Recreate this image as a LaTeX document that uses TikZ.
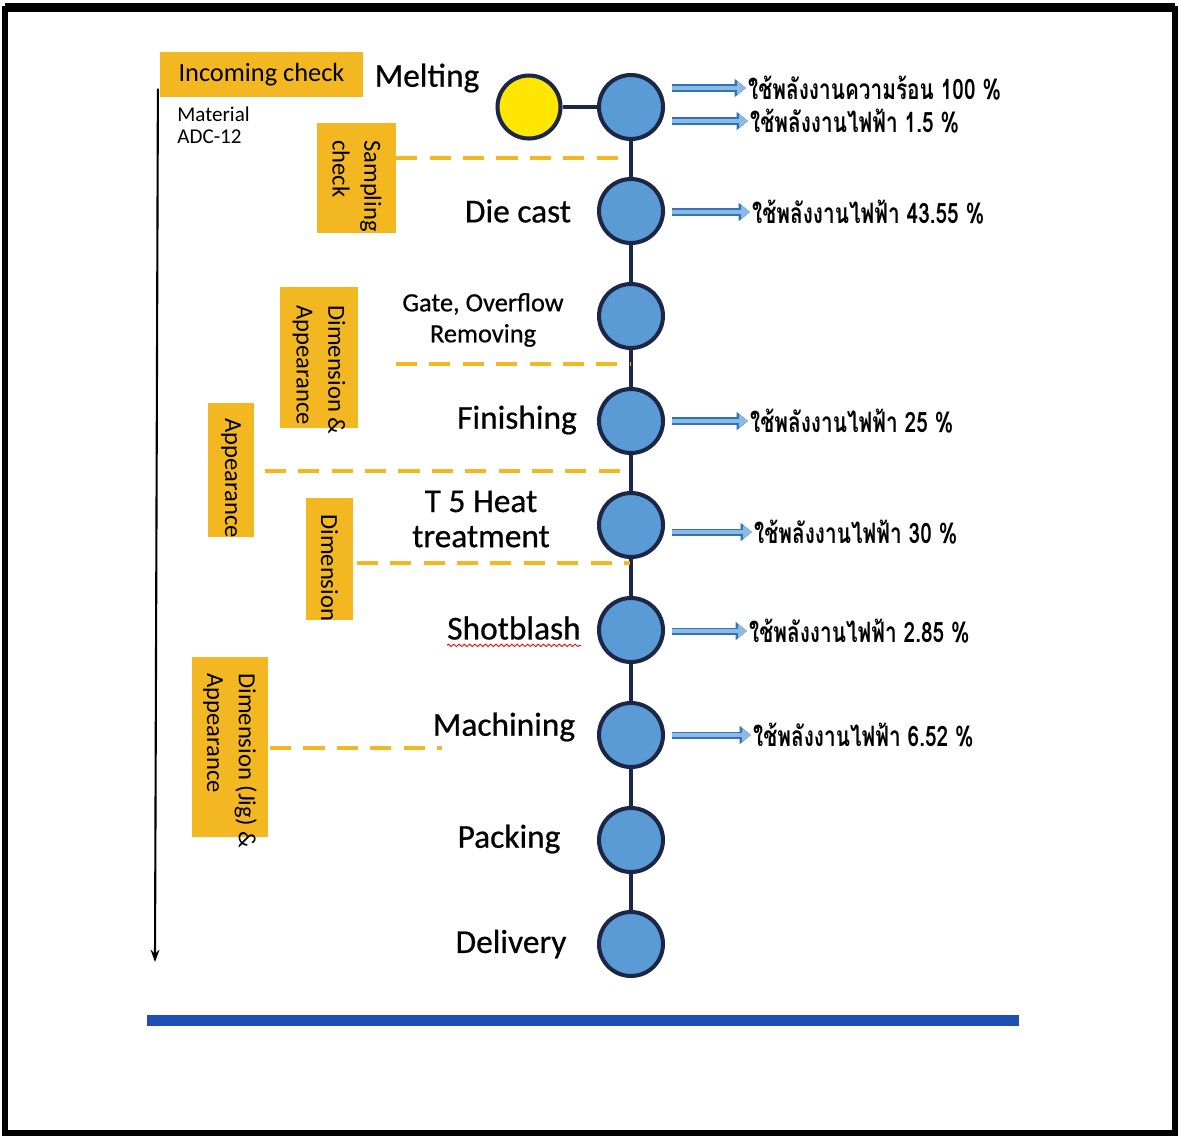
\documentclass[tikz,border=0pt]{standalone}
\usepackage{fontspec}
\setmainfont{Carlito}
\newfontfamily\thaifont[Script=Thai,FakeStretch=0.74]{Loma}
\usetikzlibrary{arrows.meta,decorations.pathmorphing}
\definecolor{gold}{HTML}{F3B821}
\definecolor{cblue}{HTML}{5B9BD5}
\definecolor{navy}{HTML}{1C2747}
\definecolor{cyellow}{HTML}{FFE600}
\definecolor{barblue}{HTML}{1D4FB5}
\definecolor{arrline}{HTML}{2E75B6}
\definecolor{arrfill}{HTML}{8DB9E4}
\begin{document}
\begin{tikzpicture}[x=0.02cm,y=0.02cm,
  stepc/.style={circle, draw=navy, line width=2.3pt, fill=cblue, minimum size=1.28cm, inner sep=0},
  qbox/.style={fill=gold, inner sep=0},
  lbl/.style={font=\fontsize{19}{22}\selectfont\addfontfeature{FakeBold=0.6}, inner sep=0},
  vt/.style={rotate=-90, anchor=west, align=left, inner sep=0, font=\fontsize{14}{18}\selectfont},
  qdash/.style={draw=gold, line width=2.3pt, dash pattern=on 12pt off 7pt},
  navyline/.style={draw=navy, line width=2.3pt},
  earrow/.style={draw=arrfill, line width=2.2pt, shorten <=4pt, -{Triangle[length=5pt,width=7pt]},
     preaction={draw=arrline, line width=4pt, shorten <=4pt, -{Triangle[length=6.5pt,width=10pt]}}},
  thai/.style={anchor=west, inner sep=1pt, font=\thaifont\bfseries\fontsize{16}{18}\selectfont}]
% page
\fill[white] (0,0) rectangle (1179,-1137);
\useasboundingbox (0,0) rectangle (1179,-1137);
\draw[line width=3pt] (5,-9) rectangle (1175,-1133);
\draw[line width=4pt] (5,-7) -- (1175,-7);

% left timeline arrow
\coordinate (aend) at (155,-962);
% incoming check box
\node[qbox, minimum width=4.06cm, minimum height=0.9cm, font=\fontsize{15}{18}\selectfont] (ic) at (261.5,-74.5) {Incoming check};
\draw[line width=1.2pt, -{Stealth[length=7pt,width=5pt]}] ([xshift=-1pt,yshift=-8pt]ic.west) -- (aend);
\node[anchor=north west, align=left, inner sep=0, font=\fontsize{12}{13}\selectfont] (mat) at (177,-106) {Material\\ADC-12};

% quality check boxes
\node[qbox, minimum width=1.58cm, minimum height=2.2cm] (s1) at (356.5,-178) {};
\node[vt] (v1) at (357,-140) {Sampling\\check};
\node[qbox, minimum width=1.56cm, minimum height=2.82cm] (s2) at (319,-357.5) {};
\node[vt] (v2) at (319,-305) {Dimension \&\\Appearance};
\node[qbox, minimum width=0.92cm, minimum height=2.68cm] (s3) at (231,-470) {};
\node[vt] (v3) at (231,-418) {Appearance};
\node[qbox, minimum width=0.94cm, minimum height=2.44cm] (s4) at (329.5,-559) {};
\node[vt] (v4) at (329.5,-514) {Dimension};
\node[qbox, minimum width=1.52cm, minimum height=3.6cm] (s5) at (230,-747) {};
\node[vt] (v5) at (230,-673) {Dimension (Jig) \&\\Appearance};

% process circles
\node[stepc, fill=cyellow, minimum size=1.26cm] (y0) at (529,-107) {};
\node[stepc] (c1) at (631,-107) {};
\node[stepc] (c2) at (631,-211) {};
\node[stepc] (c3) at (631,-316) {};
\node[stepc] (c4) at (631,-421) {};
\node[stepc] (c5) at (631,-525) {};
\node[stepc] (c6) at (631,-630) {};
\node[stepc] (c7) at (631,-735) {};
\node[stepc] (c8) at (631,-840) {};
\node[stepc] (c9) at (631,-944) {};
\draw[navyline] (y0) -- (c1);
\draw[navyline] (c1) -- (c2);
\draw[navyline] (c2) -- (c3);
\draw[navyline] (c3) -- (c4);
\draw[navyline] (c4) -- (c5);
\draw[navyline] (c5) -- (c6);
\draw[navyline] (c6) -- (c7);
\draw[navyline] (c7) -- (c8);
\draw[navyline] (c8) -- (c9);

% dashed check lines
\coordinate (k1) at (630,-158);
\coordinate (k2a) at (396,-364);
\coordinate (k2) at (630,-364);
\coordinate (k3) at (630,-471);
\coordinate (k4) at (630,-563);
\coordinate (k5) at (442,-748);
\draw[qdash] (s1.east |- k1) -- (k1);
\draw[qdash] (k2a) -- (k2);
\draw[qdash] ([xshift=6pt]s3.east |- k3) -- (k3);
\draw[qdash] ([xshift=2pt]s4.east |- k4) -- (k4);
\draw[qdash] ([xshift=1pt]s5.east |- k5) -- (k5);

% step labels
\node[lbl] (melt) at (427,-78) {Melting};
\node[lbl] (die) at (518,-211) {Die cast};
\node[lbl, font=\fontsize{15}{17.6}\selectfont\addfontfeature{FakeBold=0.6}, align=center] (gate) at (483,-320) {Gate, Overflow\\Removing};
\node[lbl] (fin) at (517,-420) {Finishing};
\node[lbl, align=center, font=\fontsize{19}{20}\selectfont\addfontfeature{FakeBold=0.6}] (heat) at (481,-519) {T 5 Heat\\treatment};
\node[lbl] (sb) at (514,-628) {Shotblash};
\draw[red, line width=0.5pt, decorate, decoration={snake, amplitude=0.7pt, segment length=3pt}] ([yshift=-3pt]sb.south west) -- ([yshift=-3pt]sb.south east);
\node[lbl] (mach) at (504,-727) {Machining};
\node[lbl] (pack) at (509,-839) {Packing};
\node[lbl] (del) at (511,-944) {Delivery};

% energy use labels
\node[thai] (t1a) at (746,-88) {ใช้พลังงานความร้อน 100 \%};
\node[thai] (t1b) at (748,-121) {ใช้พลังงานไฟฟ้า 1.5 \%};
\node[thai] (t2) at (750,-212) {ใช้พลังงานไฟฟ้า 43.55 \%};
\node[thai] (t4) at (748,-421) {ใช้พลังงานไฟฟ้า 25 \%};
\node[thai] (t5) at (752,-532) {ใช้พลังงานไฟฟ้า 30 \%};
\node[thai] (t6) at (747,-631) {ใช้พลังงานไฟฟ้า 2.85 \%};
\node[thai] (t7) at (751,-735) {ใช้พลังงานไฟฟ้า 6.52 \%};
\draw[earrow] (c1.east |- t1a.west) -- (t1a.west);
\draw[earrow] (c1.east |- t1b.west) -- (t1b.west);
\draw[earrow] (c2.east |- t2.west) -- (t2.west);
\draw[earrow] (c4.east |- t4.west) -- (t4.west);
\draw[earrow] (c5.east |- t5.west) -- (t5.west);
\draw[earrow] (c6.east |- t6.west) -- (t6.west);
\draw[earrow] (c7.east |- t7.west) -- (t7.west);

% bottom bar
\fill[barblue] (147,-1015) rectangle (1019,-1026);
\end{tikzpicture}
\end{document}
